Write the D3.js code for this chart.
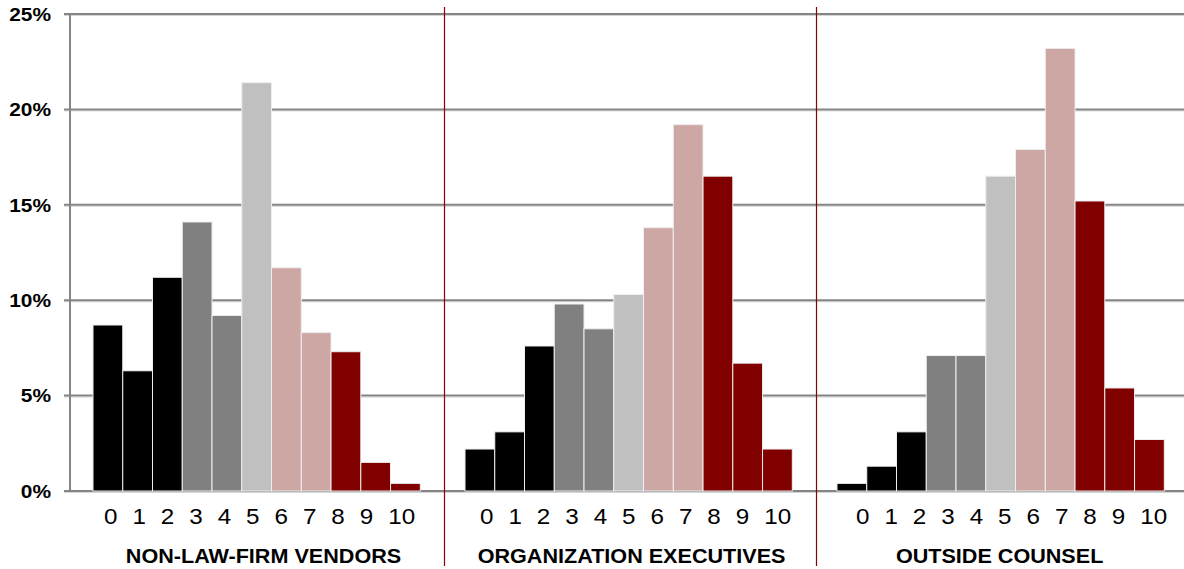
<!DOCTYPE html>
<html>
<head>
<meta charset="utf-8">
<script src="https://cdn.jsdelivr.net/npm/d3@7/dist/d3.min.js"></script>
<style>
  html, body { margin: 0; padding: 0; background: #fff; }
  svg { display: block; font-family: "Liberation Sans", Arial, sans-serif; }
</style>
</head>
<body>
<svg id="chart" width="1184" height="569"></svg>
<script>
// Score categories 0..10
const scores = ["0", "1", "2", "3", "4", "5", "6", "7", "8", "9", "10"];

// Respondent groups (panels)
const groups = ["NON-LAW-FIRM VENDORS", "ORGANIZATION EXECUTIVES", "OUTSIDE COUNSEL"];

// Share of responses (%) per score, one array per group
const vendorsPct    = [8.7, 6.3, 11.2, 14.1, 9.2, 21.4, 11.7, 8.3, 7.3, 1.5, 0.4];
const executivesPct = [2.2, 3.1, 7.6, 9.8, 8.5, 10.3, 13.8, 19.2, 16.5, 6.7, 2.2];
const counselPct    = [0.4, 1.3, 3.1, 7.1, 7.1, 16.5, 17.9, 23.2, 15.2, 5.4, 2.7];

const seriesByGroup = [vendorsPct, executivesPct, counselPct];

// Y axis tick values (%)
const yTicks = [0, 5, 10, 15, 20, 25];

// Colour bands by score
const scoreColor = d3.scaleOrdinal()
  .domain(scores)
  .range(["#000000", "#000000", "#000000",
          "#808080", "#808080",
          "#c0c0c0",
          "#cca7a3", "#cca7a3",
          "#800000", "#800000", "#800000"]);

const svg = d3.select("#chart");
const W = 1184;
const stretch = 1.1;   // horizontal text stretch

const axisX = 70;
const y = d3.scaleLinear().domain([0, 25]).range([491, 14]);

// Panels sit side by side, each with its own band scale for scores
const panel = d3.scaleBand().domain(groups).range([72, 72 + 372 * 3]).padding(0);
const barInset = 21;
const barSpan = 327.3;

// Label rows under each panel
const scoreRowStart = d3.scalePoint().domain(groups).range([104, 856]);
const titleCenter = d3.scalePoint().domain(groups).range([263.5, 999.6]);

// Gridlines (drawn behind bars)
const grid = svg.append("g");
grid.selectAll("line.shadow").data(yTicks).join("line")
  .attr("class", "shadow")
  .attr("x1", 64).attr("x2", W)
  .attr("y1", d => y(d) + 1.5).attr("y2", d => y(d) + 1.5)
  .attr("stroke", "#d6d6d6").attr("stroke-width", 1);
grid.selectAll("line.major").data(yTicks).join("line")
  .attr("class", "major")
  .attr("x1", 64).attr("x2", W)
  .attr("y1", d => y(d)).attr("y2", d => y(d))
  .attr("stroke", "#858585").attr("stroke-width", 2);

// Vertical value axis line
svg.append("line")
  .attr("x1", axisX).attr("x2", axisX)
  .attr("y1", y(25) - 1).attr("y2", y(0) + 1)
  .attr("stroke", "#858585").attr("stroke-width", 2);

// Y tick labels
svg.append("g").selectAll("text").data(yTicks).join("text")
  .attr("transform", d => `translate(51,${y(d) + 6.7}) scale(${stretch},1)`)
  .attr("text-anchor", "end")
  .attr("font-size", 19)
  .attr("font-weight", "bold")
  .attr("fill", "#000")
  .text(d => d + "%");

// Panels
groups.forEach((g, gi) => {
  const x0 = panel(g) + barInset;
  const x = d3.scaleBand().domain(scores).range([x0, x0 + barSpan]).padding(0);
  const vals = seriesByGroup[gi];
  const pg = svg.append("g");

  pg.selectAll("rect").data(scores).join("rect")
    .attr("x", d => x(d))
    .attr("y", (d, i) => y(vals[i]))
    .attr("width", x.bandwidth())
    .attr("height", (d, i) => y(0) - y(vals[i]))
    .attr("fill", d => scoreColor(d))
    .attr("stroke", "#eeeeee")
    .attr("stroke-width", 1);

  // Score labels, set as one spaced row
  pg.append("text")
    .attr("transform", `translate(${scoreRowStart(g)},524) scale(${stretch},1)`)
    .attr("font-size", 22)
    .attr("word-spacing", 7.5)
    .attr("fill", "#000")
    .text(scores.join(" "));

  // Group title
  pg.append("text")
    .attr("transform", `translate(${titleCenter(g)},562.5) scale(1.08,1)`)
    .attr("text-anchor", "middle")
    .attr("font-size", 20)
    .attr("font-weight", "bold")
    .attr("fill", "#000")
    .text(g);
});

// Dividers between panels
svg.append("g").selectAll("line").data(groups.slice(1)).join("line")
  .attr("x1", d => panel(d) + 0.5).attr("x2", d => panel(d) + 0.5)
  .attr("y1", 7).attr("y2", 566)
  .attr("stroke", "#8b0000").attr("stroke-width", 1.2);
</script>
</body>
</html>
